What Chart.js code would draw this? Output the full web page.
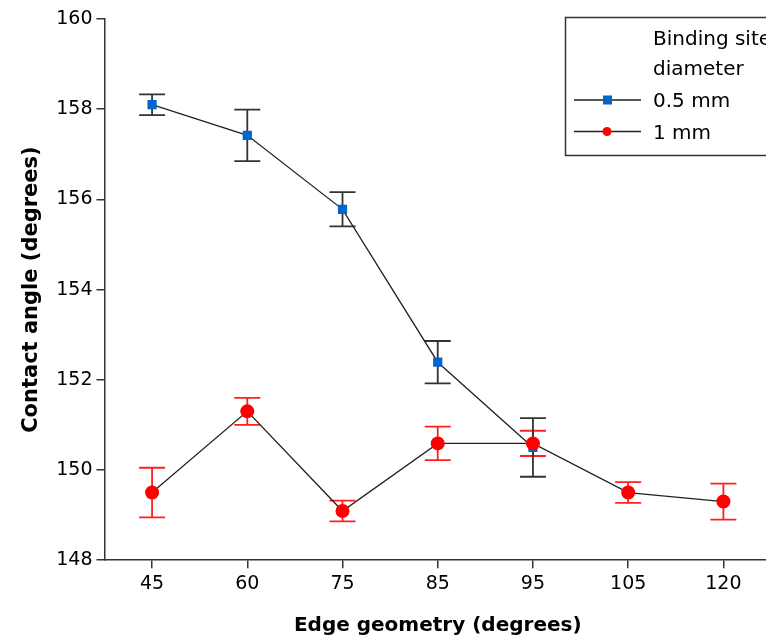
<!DOCTYPE html>
<html>
<head>
<meta charset="utf-8">
<script src="https://cdn.jsdelivr.net/npm/chart.js@4"></script>
<style>
  html, body { margin: 0; padding: 0; background: #fff; overflow: hidden; }
  #wrap { position: absolute; left: 0; top: 0; width: 778px; height: 642px; }
</style>
</head>
<body>
<div id="wrap"><canvas id="c"></canvas></div>
<script>
// ---- data ----
const categories = ['45', '60', '75', '85', '95', '105', '120'];
const seriesNames = ['0.5 mm', '1 mm'];
const legendTitle = ['Binding site', 'diameter'];
const values05 = [158.1, 157.42, 155.78, 152.39, 150.5, null, null];
const errors05 = [0.23, 0.57, 0.38, 0.47, 0.65, null, null];
const values1 = [149.5, 151.3, 149.09, 150.59, 150.59, 149.5, 149.3];
const errors1 = [0.55, 0.3, 0.23, 0.37, 0.28, 0.23, 0.4];
const yTicks = [148, 150, 152, 154, 156, 158, 160];
const xTitle = 'Edge geometry (degrees)';
const yTitle = 'Contact angle (degrees)';

const FONT = "'DejaVu Sans', Verdana, sans-serif";

const errorBarPlugin = {
  id: 'errorBars',
  beforeDatasetsDraw(chart) {
    const ctx = chart.ctx;
    const y = chart.scales.y;
    chart.data.datasets.forEach((ds, i) => {
      const meta = chart.getDatasetMeta(i);
      if (!ds.errors) return;
      ctx.save();
      ctx.strokeStyle = ds.errorColor;
      ctx.lineWidth = 1.8;
      meta.data.forEach((pt, j) => {
        const v = ds.data[j], e = ds.errors[j];
        if (v == null || e == null) return;
        const x = pt.x;
        const yt = y.getPixelForValue(v + e);
        const yb = y.getPixelForValue(v - e);
        const w = 13;
        ctx.beginPath();
        ctx.moveTo(x, yt); ctx.lineTo(x, yb);
        ctx.moveTo(x - w, yt); ctx.lineTo(x + w, yt);
        ctx.moveTo(x - w, yb); ctx.lineTo(x + w, yb);
        ctx.stroke();
      });
      ctx.restore();
    });
  }
};

const legendPlugin = {
  id: 'boxLegend',
  afterDraw(chart) {
    const ctx = chart.ctx;
    ctx.save();
    ctx.strokeStyle = '#333';
    ctx.lineWidth = 1.5;
    ctx.strokeRect(565.5, 17.5, 260, 138);
    ctx.fillStyle = '#000';
    ctx.font = '20px ' + FONT;
    ctx.textBaseline = 'alphabetic';
    ctx.fillText(legendTitle[0], 653, 45);
    ctx.fillText(legendTitle[1], 653, 75);
    const rows = [
      { name: seriesNames[0], y: 100, color: '#0066cc', style: 'rect' },
      { name: seriesNames[1], y: 131.5, color: '#ff0000', style: 'circle' }
    ];
    rows.forEach(r => {
      ctx.strokeStyle = '#222';
      ctx.lineWidth = 1.3;
      ctx.beginPath(); ctx.moveTo(574, r.y); ctx.lineTo(641, r.y); ctx.stroke();
      ctx.fillStyle = r.color;
      if (r.style === 'rect') ctx.fillRect(603, r.y - 4.5, 9, 9);
      else { ctx.beginPath(); ctx.arc(607, r.y, 4.5, 0, Math.PI * 2); ctx.fill(); }
      ctx.fillStyle = '#000';
      ctx.fillText(r.name, 653, r.y + 7);
    });
    ctx.restore();
  }
};

new Chart(document.getElementById('c'), {
  type: 'line',
  data: {
    labels: categories,
    datasets: [
      {
        label: seriesNames[1],
        data: values1,
        errors: errors1,
        errorColor: '#ff2020',
        borderColor: '#222',
        borderWidth: 1.3,
        pointStyle: 'circle',
        pointRadius: 7,
        pointBackgroundColor: '#ff0000',
        pointBorderColor: '#ff0000',
        pointBorderWidth: 0,
        order: 0,
        tension: 0
      },
      {
        label: seriesNames[0],
        data: values05,
        errors: errors05,
        errorColor: '#333',
        borderColor: '#222',
        borderWidth: 1.3,
        pointStyle: 'rect',
        pointRadius: 6.5,
        pointBackgroundColor: '#0066cc',
        pointBorderColor: '#0066cc',
        pointBorderWidth: 0,
        order: 1,
        tension: 0
      }
    ]
  },
  options: {
    responsive: true,
    maintainAspectRatio: false,
    animation: false,
    layout: { padding: { top: 19, right: 0, left: 15, bottom: 0 } },
    plugins: { legend: { display: false }, tooltip: { enabled: false } },
    scales: {
      x: {
        type: 'category',
        offset: true,
        grid: { display: true, drawOnChartArea: false, offset: false, color: '#333', tickLength: 8, lineWidth: 1.5 },
        border: { color: '#333', width: 1.5 },
        ticks: { color: '#000', font: { family: FONT, size: 19 }, padding: 4 },
        title: { display: true, text: xTitle, color: '#000', font: { family: FONT, size: 20, weight: 'bold' }, padding: { top: 15 } }
      },
      y: {
        min: 148, max: 160,
        afterBuildTicks(scale) { scale.ticks = yTicks.map(v => ({ value: v })); },
        grid: { display: true, drawOnChartArea: false, color: '#333', tickLength: 8, lineWidth: 1.5 },
        border: { color: '#333', width: 1.5 },
        ticks: { color: '#000', font: { family: FONT, size: 19 }, padding: 4 },
        title: { display: true, text: yTitle, color: '#000', font: { family: FONT, size: 21, weight: 'bold' }, padding: { bottom: 8 } }
      }
    }
  },
  plugins: [errorBarPlugin, legendPlugin]
});
</script>
</body>
</html>
